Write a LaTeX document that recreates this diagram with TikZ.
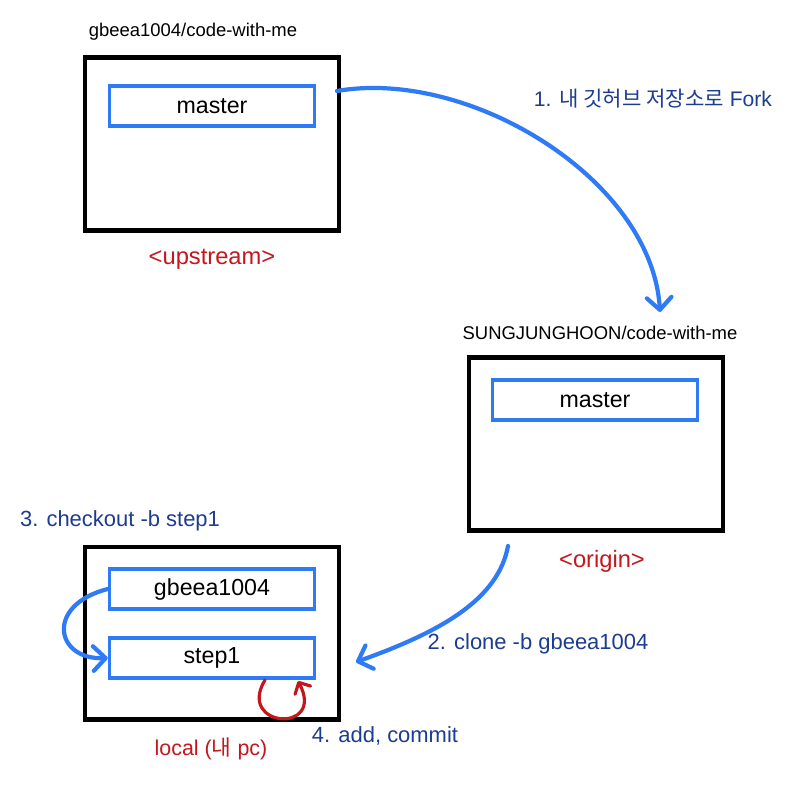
\documentclass[tikz,border=0pt]{standalone}
\usepackage{fontspec}
\setmainfont{Liberation Sans}
\newfontfamily\kofont{Noto Sans CJK KR}
\usepackage{xcolor}
\usetikzlibrary{arrows.meta, positioning}
\definecolor{penblue}{HTML}{2F7BF6}
\definecolor{inkblue}{HTML}{1C3C8E}
\definecolor{inkred}{HTML}{C2171C}

\begin{document}
\begin{tikzpicture}[x=0.02cm, y=-0.02cm]
\tikzstyle{repo}=[rectangle,draw=black,line width=2.3pt,minimum width=5.08cm,minimum height=3.46cm]
\tikzstyle{branch}=[rectangle,draw=penblue,line width=2pt,minimum width=4.1cm,minimum height=0.8cm,font=\fontsize{13.2}{15}\selectfont]
\tikzstyle{title}=[font=\fontsize{10.5}{12}\selectfont]
\tikzstyle{stepnote}=[text=inkblue,font=\fontsize{12.5}{14}\selectfont]
\tikzstyle{place}=[text=inkred,font=\fontsize{13.5}{15}\selectfont]
\tikzstyle{pen}=[draw=penblue,line width=2.4pt,line cap=round,-{Straight Barb[length=7pt,width=14pt,round]}]
\useasboundingbox (0,0) rectangle (800,800);
% upstream
\node[repo] (up) at (212,144) {};
\node[branch] (upmaster) at (212,106) {master};
\node[title] (uptitle) at (193,32) {gbeea1004/code-with-me};
\node[place] (upname) at (212,259) {<upstream>};
% origin
\node[repo] (ori) at (596,444) {};
\node[branch] (orimaster) at (595,400) {master};
\node[title] (orititle) at (600,333) {SUNGJUNGHOON/code-with-me};
\node[place] (oriname) at (602,561) {<origin>};
% local
\node[repo] (loc) at (212,633) {};
\node[branch] (locgb) at (212,589) {gbeea1004};
\node[branch] (locstep) at (212,658) {step1};
\node[place,font=\fontsize{12.2}{14}\selectfont] (locname) at (211,749) {local ({\kofont 내} pc)};
% notes
\node[stepnote,font=\fontsize{12}{14}\selectfont] (fork) at (653,99) {1. {\kofont 내 깃허브 저장소로} Fork};
\node[stepnote] (clone) at (538,644) {2. clone -b gbeea1004};
\node[stepnote] (checkout) at (120,521) {3. checkout -b step1};
\node[stepnote] (commit) at (385,736) {4. add, commit};
\coordinate (forkin) at (660,312);
\coordinate (clonefrom) at (508,546);
\coordinate (cloneto) at (356,662);
\coordinate (loopfrom) at (265,680);
\coordinate (loopto) at (298,681);
\path[pen]
(up.east |- upmaster) ++(-4,-15) .. controls (470,68) and (652,180) .. (forkin);
\path[pen]
(clonefrom) .. controls (498,600) and (440,632) .. (cloneto);
\path[pen]
(locgb.west) .. controls (45,605) and (55,660) .. (locstep.west);
\path[pen,draw=inkred,line width=1.8pt,-{Straight Barb[length=5pt,width=10pt,round]}]
(loopfrom) .. controls (236,728) and (326,734) .. (loopto);
\end{tikzpicture}
\end{document}
